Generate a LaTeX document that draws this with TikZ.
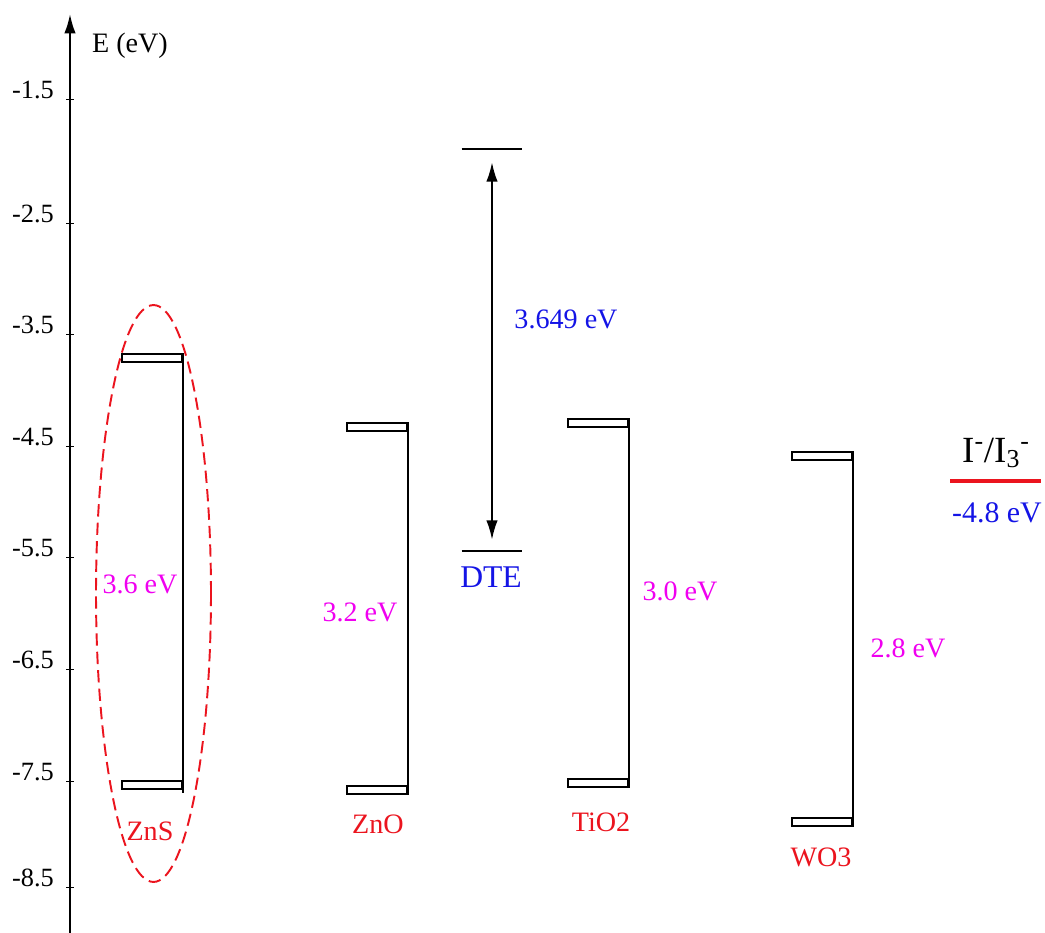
\documentclass[tikz,border=0pt]{standalone}
\usepackage{fontspec}
\setmainfont{Liberation Serif}
\usepackage{tikz}
\usetikzlibrary{positioning}
\usetikzlibrary{arrows.meta}
\usepackage{xcolor}
\definecolor{matred}{RGB}{235,20,30}
\definecolor{gapmag}{RGB}{240,0,240}
\definecolor{dteblue}{RGB}{20,20,230}

\tikzset{
  band/.style={draw, line width=1pt, minimum width=1.2cm, minimum height=0.15cm, inner sep=0pt},
  level/.style={minimum width=1.2cm, minimum height=0pt, inner sep=0pt},
  edge/.style={line width=1pt},
  gaplabel/.style={gapmag, font=\fontsize{16}{18}\selectfont},
  matlabel/.style={matred, font=\fontsize{16}{18}\selectfont},
  ticklabel/.style={anchor=east, font=\fontsize{15}{17}\selectfont}
}

\begin{document}
\begin{tikzpicture}[x=0.02cm, y=-0.02cm]
    \useasboundingbox (0,0) rectangle (1045,933);

    % Energy axis
    \coordinate (axB) at (70,933);
    \coordinate (axT) at (70,14);
    \draw[line width=1.2pt, -{Latex[length=11pt, width=6.5pt]}] (axB) -- (axT);
    \node[font=\fontsize{16}{18}\selectfont] (axE) at (130,46) {E (eV)};
    \foreach \e/\y in {-1.5/90, -2.5/214, -3.5/325, -4.5/437, -5.5/548, -6.5/660, -7.5/772, -8.5/878} {
        \node[ticklabel] (t\y) at (60,\y) {\e};
        \draw (66,\y+9) -- (74,\y+9);
    }

    % ZnS
    \node[band] (znsC) at (152,358) {};
    \node[band] (znsV) at (152,785) {};
    \draw[edge] (znsC.north east) -- ([yshift=-0.06cm]znsV.south east);
    \node[gaplabel] (znsG) at (140,584) {3.6 eV};
    \node[matlabel] (znsN) at (150,831) {ZnS};
    \draw[matred, line width=1.1pt, dash pattern=on 7pt off 3.5pt] (153.5,593.5) ellipse [x radius=1.15cm, y radius=5.77cm];

    % ZnO
    \node[band] (znoC) at (377,427) {};
    \node[band] (znoV) at (377,790) {};
    \draw[edge] (znoC.north east) -- (znoV.south east);
    \node[gaplabel] (znoG) at (360,612) {3.2 eV};
    \node[matlabel] (znoN) at (378,824) {ZnO};

    % DTE
    \node[level] (dteH) at (492,149) {};
    \node[level] (dteL) at (492,551) {};
    \draw[edge] (dteH.west) -- (dteH.east);
    \draw[edge] (dteL.west) -- (dteL.east);
    \draw[edge, {Latex[length=11pt, width=6.5pt]}-{Latex[length=11pt, width=6.5pt]}, shorten <=0.22cm, shorten >=0.26cm] (dteL) -- (dteH);
    \node[dteblue, font=\fontsize{16}{18}\selectfont] (dteG) at (566,319) {3.649 eV};
    \node[dteblue, font=\fontsize{18}{20}\selectfont] (dteN) at (491,577) {DTE};

    % TiO2
    \node[band] (tioC) at (598,423) {};
    \node[band] (tioV) at (598,783) {};
    \draw[edge] (tioC.north east) -- (tioV.south east);
    \node[gaplabel] (tioG) at (680,591) {3.0 eV};
    \node[matlabel] (tioN) at (601,822) {TiO2};

    % WO3
    \node[band] (woC) at (822,456) {};
    \node[band] (woV) at (822,822) {};
    \draw[edge] (woC.north east) -- (woV.south east);
    \node[gaplabel] (woG) at (908,648) {2.8 eV};
    \node[matlabel] (woN) at (821,857) {WO3};

    % Redox couple
    \node[font=\fontsize{21}{23}\selectfont] (rdx) at (996,453) {I\textsuperscript{-}/I\textsubscript{3}\textsuperscript{-}};
    \coordinate (rdL) at (950,481);
    \coordinate (rdR) at (1041,481);
    \draw[matred, line width=2.4pt] (rdL) -- (rdR);
    \node[dteblue, font=\fontsize{17}{19}\selectfont] (rdE) at (997,513) {-4.8 eV};
\end{tikzpicture}
\end{document}
